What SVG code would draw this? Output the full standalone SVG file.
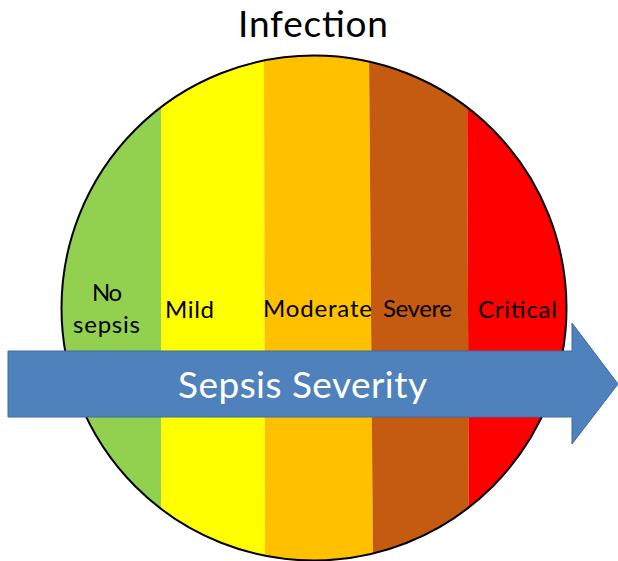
<svg xmlns="http://www.w3.org/2000/svg" width="618" height="561" viewBox="0 0 618 561">
  <defs>
    <clipPath id="circleClip">
      <circle cx="314" cy="308" r="252.5"/>
    </clipPath>
    <style>
      .lbl { font-family: Lato, "Open Sans", "Liberation Sans", sans-serif; font-size: 24px; fill: #000; }
      .big { font-family: Lato, "Open Sans", "Liberation Sans", sans-serif; font-size: 37px; }
    </style>
  </defs>
  <rect width="618" height="561" fill="#ffffff"/>

  <g id="title">
    <text class="big" x="238" y="37" fill="#000" textLength="150" lengthAdjust="spacing">Infection</text>
  </g>

  <g id="infection-circle">
    <g clip-path="url(#circleClip)">
      <polygon points="0,50 161,50 161,565 0,565" fill="#92D050"/>
      <polygon points="161,50 264,50 265,565 161,565" fill="#FFFF00"/>
      <polygon points="264,50 369,50 373,565 265,565" fill="#FFC000"/>
      <polygon points="369,50 467,50 469,565 373,565" fill="#C55A11"/>
      <polygon points="467,50 618,50 618,565 469,565" fill="#FF0000"/>
    </g>
    <circle cx="314" cy="308" r="252.5" fill="none" stroke="#000" stroke-width="2"/>
  </g>

  <g id="stage-no-sepsis">
    <text class="lbl" x="92" y="301" textLength="30" lengthAdjust="spacing">No</text>
    <text class="lbl" x="73" y="333" textLength="67" lengthAdjust="spacing">sepsis</text>
  </g>
  <g id="stage-mild">
    <text class="lbl" x="165" y="318" textLength="49" lengthAdjust="spacing">Mild</text>
  </g>
  <g id="stage-moderate">
    <text class="lbl" x="263" y="317" textLength="109" lengthAdjust="spacing">Moderate</text>
  </g>
  <g id="stage-severe">
    <text class="lbl" x="383" y="317" textLength="69" lengthAdjust="spacing">Severe</text>
  </g>
  <g id="stage-critical">
    <text class="lbl" x="478" y="318" textLength="79" lengthAdjust="spacing">Critical</text>
  </g>

  <g id="connectors">
    <g id="severity-arrow">
      <polygon points="8,351 572,351 572,323 618,384 572,444 572,417 8,417" fill="#4F81BD" stroke="#3D6CA3" stroke-width="1"/>
      <text class="big" x="178" y="398" fill="#ffffff" textLength="249" lengthAdjust="spacing">Sepsis Severity</text>
    </g>
  </g>
</svg>
